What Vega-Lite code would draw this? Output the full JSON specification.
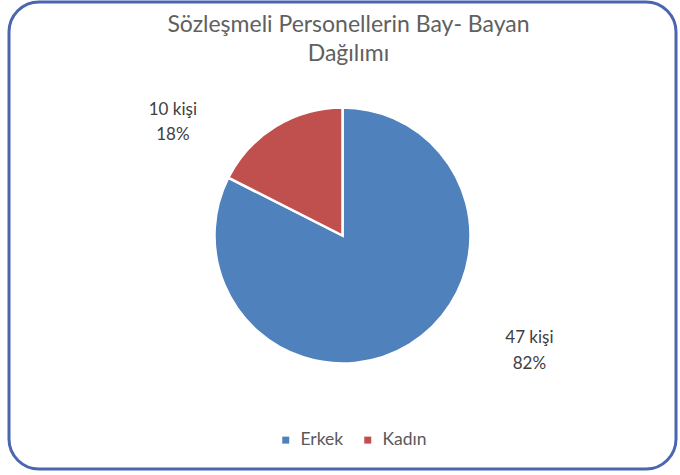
{
  "$schema": "https://vega.github.io/schema/vega-lite/v6.json",
  "autosize": {"type": "none"},
  "width": 667,
  "height": 467,
  "padding": {"left": 9, "top": 2, "right": 4, "bottom": 6},
  "background": "white",
  "view": {"stroke": "#4a66b0", "strokeWidth": 3, "cornerRadius": 30, "fill": "white"},
  "config": {
    "view": {"stroke": "#4a66b0", "strokeWidth": 3},
    "font": "Lato"
  },
  "title": {
    "text": ["Sözleşmeli Personellerin Bay- Bayan", "Dağılımı"],
    "font": "Lato",
    "fontSize": 23,
    "fontWeight": "normal",
    "color": "#606060",
    "lineHeight": 29,
    "offset": -64,
    "dx": 6
  },
  "data": {
    "values": [
      {"cinsiyet": "Erkek", "kisi": 47, "yuzde": "82%", "sira": 1},
      {"cinsiyet": "Kadın", "kisi": 10, "yuzde": "18%", "sira": 2}
    ]
  },
  "transform": [
    {"stack": "kisi", "groupby": [], "sort": [{"field": "sira", "order": "ascending"}], "as": ["t0", "t1"]},
    {"calculate": "(datum.t0 + datum.t1) / 2", "as": "orta"},
    {"calculate": "[datum.kisi + ' kişi', datum.yuzde]", "as": "etiket"}
  ],
  "layer": [
    {
      "mark": {"type": "arc", "radius": 128, "stroke": "white", "strokeWidth": 2.5},
      "encoding": {
        "theta": {"field": "t0", "type": "quantitative", "scale": {"domain": [0, 57]}},
        "theta2": {"field": "t1"},
        "color": {
          "field": "cinsiyet",
          "type": "nominal",
          "scale": {"domain": ["Erkek", "Kadın"], "range": ["#4f81bd", "#c0504d"]},
          "legend": {
            "title": null,
            "orient": "none",
            "direction": "horizontal",
            "legendX": 268,
            "legendY": 429,
            "padding": 0,
            "symbolType": "square",
            "symbolSize": 49,
            "symbolStrokeWidth": 0,
            "labelFont": "Lato",
            "labelFontSize": 17.5,
            "labelColor": "#595959",
            "labelOffset": 6,
            "columnPadding": 15
          }
        }
      }
    },
    {
      "transform": [{"filter": "datum.cinsiyet === 'Kadın'"}],
      "mark": {"type": "text", "radius": 196, "dx": -67, "dy": 41, "align": "center", "baseline": "middle", "font": "Lato", "fontSize": 17, "lineHeight": 25, "color": "#404040"},
      "encoding": {
        "theta": {"field": "orta", "type": "quantitative"},
        "text": {"field": "etiket"}
      }
    },
    {
      "transform": [{"filter": "datum.cinsiyet === 'Erkek'"}],
      "mark": {"type": "text", "radius": 185, "dx": 90, "dy": -55, "align": "center", "baseline": "middle", "font": "Lato", "fontSize": 17, "lineHeight": 26, "color": "#404040"},
      "encoding": {
        "theta": {"field": "orta", "type": "quantitative"},
        "text": {"field": "etiket"}
      }
    }
  ]
}
